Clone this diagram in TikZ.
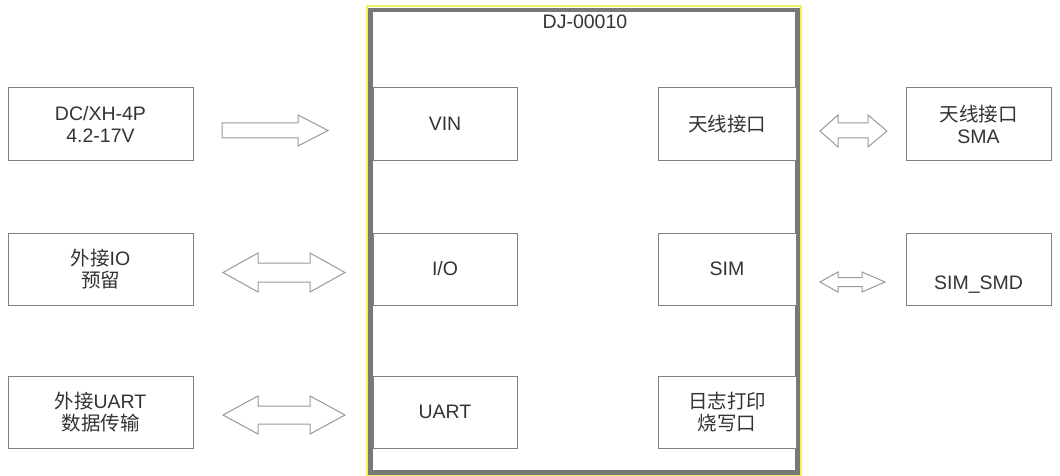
\documentclass[tikz,border=0pt]{standalone}
\usepackage{fontspec}
\setmainfont{Liberation Sans}
\newfontfamily\cjk{Noto Sans CJK SC}
\definecolor{txtc}{HTML}{333333}
\definecolor{yel}{HTML}{F0F060}
\definecolor{bord}{HTML}{787878}
\begin{document}
\begin{tikzpicture}[x=1pt,y=-1pt,
  txt/.style={text=txtc,font=\fontsize{19.5}{22}\selectfont,align=center},
  box/.style={draw=black!50,line width=1pt,fill=white},
  arr/.style={draw=black!40,line width=1pt,fill=white,line join=miter}]
\useasboundingbox (0,0) rectangle (1060,476);
% main box
\draw[draw=yel,line width=1.5pt] (367,6) rectangle (801,476);
\draw[draw=bord,line width=4.5pt] (370.5,10) rectangle (797.5,472.5);
\node[txt] (title) at (585,22) {DJ-00010};
% inner boxes
\node[box,minimum width=144,minimum height=72,inner sep=0] (vin) at (445,124) {};
\node[txt] at (vin) {VIN};
\node[box,minimum width=144,minimum height=72,inner sep=0] (io) at (445,269) {};
\node[txt] at (io) {I/O};
\node[box,minimum width=144,minimum height=72,inner sep=0] (uart) at (445,412) {};
\node[txt] at (uart) {UART};
\node[box,minimum width=138,minimum height=72,inner sep=0] (ant) at (727,124) {};
\node[txt] at (ant) {\cjk 天线接口};
\node[box,minimum width=138,minimum height=72,inner sep=0] (sim) at (727,269) {};
\node[txt] at (sim) {SIM};
\node[box,minimum width=138,minimum height=72,inner sep=0] (log) at (727,412) {};
\node[txt] at (log) {\cjk 日志打印\\\cjk 烧写口};
% left boxes
\node[box,minimum width=185,minimum height=72,inner sep=0] (dc) at (100.5,124) {};
\node[txt] at (dc) {DC/XH-4P\\4.2-17V};
\node[box,minimum width=185,minimum height=72,inner sep=0] (extio) at (100.5,269) {};
\node[txt] at (extio) {{\cjk 外接}IO\\\cjk 预留};
\node[box,minimum width=185,minimum height=72,inner sep=0] (extuart) at (100.5,412) {};
\node[txt] at (extuart) {{\cjk 外接}UART\\\cjk 数据传输};
% right boxes
\node[box,minimum width=145,minimum height=72,inner sep=0] (sma) at (978.5,124) {};
\node[txt] at (sma) {{\cjk 天线接口}\\SMA};
\node[box,minimum width=145,minimum height=72,inner sep=0] (simsmd) at (978.5,269) {};
\node[txt] (simsmdlabel) at (978.5,285) {SIM\_SMD};
% arrows
\draw[arr] (222,123) -- (298,123) -- (298,115) -- (328,130.5) -- (298,146) -- (298,138) -- (222,138) -- cycle;
\draw[arr] (223,272.5) -- (258,253) -- (258,263) -- (310,263) -- (310,253) -- (345,272.5) -- (310,292) -- (310,282) -- (258,282) -- (258,292) -- cycle;
\draw[arr] (223,415) -- (258,396) -- (258,406) -- (310,406) -- (310,396) -- (345,415) -- (310,434) -- (310,424) -- (258,424) -- (258,434) -- cycle;
\draw[arr] (820,131) -- (838,115) -- (838,123) -- (868,123) -- (868,115) -- (887,131) -- (868,147) -- (868,138) -- (838,138) -- (838,147) -- cycle;
\draw[arr] (820,282) -- (838,272) -- (838,277.5) -- (862,277.5) -- (862,272) -- (885,282) -- (862,292) -- (862,286.5) -- (838,286.5) -- (838,292) -- cycle;
\end{tikzpicture}
\end{document}
